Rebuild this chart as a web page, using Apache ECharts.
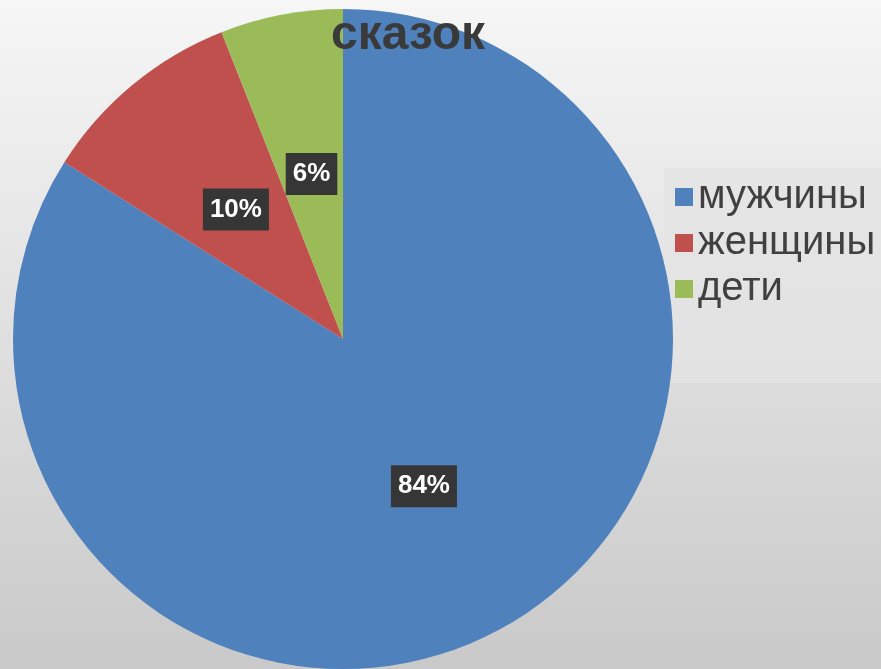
<!DOCTYPE html>
<html>
<head>
<meta charset="utf-8">
<style>
    html, body { margin: 0; padding: 0; }
    #chart { width: 881px; height: 669px; }
</style>
<script src="https://cdn.jsdelivr.net/npm/echarts@6/dist/echarts.min.js"></script>
</head>
<body>
<div id="chart"></div>
<script>
    // данные
    var categories = ['мужчины', 'женщины', 'дети'];
    var shares = [84, 10, 6];
    var colors = ['#4f81bd', '#c0504d', '#9bbb59'];
    var titleText = 'сказок';

    var pieData = [];
    for (var i = 0; i < categories.length; i++) {
        pieData.push({ name: categories[i], value: shares[i] });
    }

    var myChart = echarts.init(document.getElementById('chart'));
    myChart.setOption({
        animation: false,
        // фон - серый градиент
        backgroundColor: new echarts.graphic.LinearGradient(0, 0, 0, 1, [
            { offset: 0, color: '#f6f6f6' },
            { offset: 1, color: '#c9c9c9' }
        ]),
        color: colors,
        title: {
            text: titleText,
            left: 331,
            top: 12,
            padding: 0,
            textStyle: {
                fontFamily: 'Liberation Sans, Arial, sans-serif',
                fontSize: 48,
                fontWeight: 'bold',
                color: '#3a3a3a'
            }
        },
        legend: {
            orient: 'vertical',
            left: 664,
            top: 168,
            z: 1, // под кругом
            padding: [6, 20, 71, 11],
            backgroundColor: 'rgba(228,228,228,0.8)',
            itemGap: 0,
            icon: 'rect',
            itemWidth: 18,
            itemHeight: 18,
            selectedMode: false,
            textStyle: {
                fontFamily: 'Liberation Sans, Arial, sans-serif',
                fontSize: 40,
                lineHeight: 46,
                color: '#404040'
            },
            data: categories
        },
        series: [
            {
                type: 'pie',
                z: 3,
                center: [343, 339],
                radius: 330,
                startAngle: 90,
                clockwise: true,
                emphasis: { disabled: true },
                label: {
                    show: true,
                    position: 'inside',
                    formatter: function (p) { return p.value + '%'; },
                    fontFamily: 'Liberation Sans, Arial, sans-serif',
                    fontSize: 26,
                    fontWeight: 'bold',
                    color: '#ffffff',
                    backgroundColor: '#363636',
                    padding: [8, 7],
                    lineHeight: 26
                },
                labelLine: { show: false },
                data: pieData
            }
        ]
    });
</script>
</body>
</html>
